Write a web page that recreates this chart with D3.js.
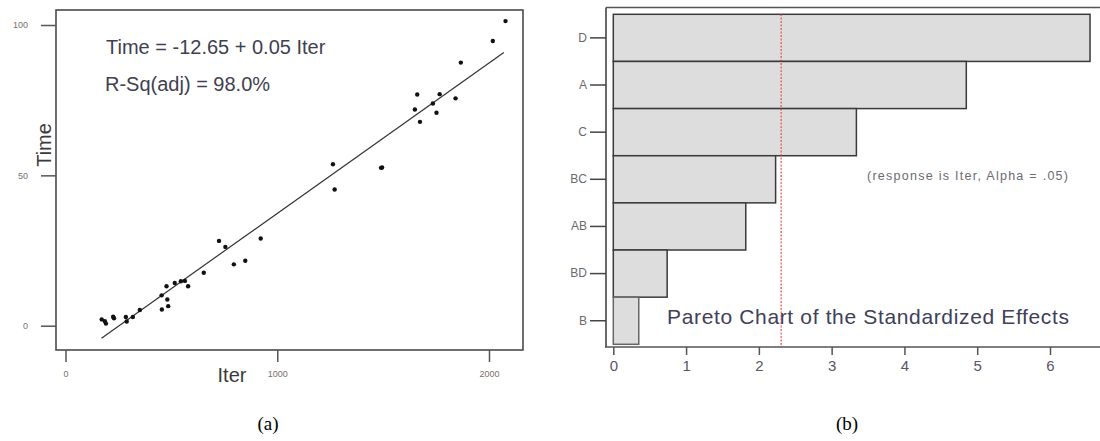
<!DOCTYPE html>
<html>
<head>
<meta charset="utf-8">
<script src="https://cdn.jsdelivr.net/npm/d3@7"></script>
<style>
  html, body { margin: 0; padding: 0; background: #fff; }
  svg { display: block; }
</style>
</head>
<body>
<svg id="fig" width="1100" height="441"></svg>
<script>
// ---- (a) fitted line plot: Time vs Iter ----
const iterVals = [171, 186, 191, 225, 229, 285, 289, 318, 351, 455, 485, 481, 454, 477, 516, 545, 564, 579,
                  653, 725, 755, 795, 849, 922, 1263, 1271, 1490, 1495, 1650, 1661, 1674, 1735, 1752, 1767,
                  1842, 1867, 2018, 2078];
const timeVals = [2.1, 1.5, 0.7, 3.0, 2.5, 2.9, 1.4, 2.9, 5.2, 5.4, 6.5, 8.7, 10.1, 13.1, 14.2, 14.8, 14.9, 13.1,
                  17.6, 28.2, 26.2, 20.4, 21.6, 29.0, 53.7, 45.3, 52.5, 52.6, 71.9, 76.9, 67.8, 73.9, 70.8, 77.0,
                  75.6, 87.5, 94.7, 101.3];
const fitIntercept = -12.65;
const fitSlope = 0.05;
const fitRange = [170, 2070];
const iterTicks = [0, 1000, 2000];
const timeTicks = [0, 50, 100];

// ---- (b) Pareto chart of standardized effects ----
const effectTerms = ["D", "A", "C", "BC", "AB", "BD", "B"];
const effectVals = [6.55, 4.85, 3.34, 2.23, 1.82, 0.74, 0.35];
const effectTicks = [0, 1, 2, 3, 4, 5, 6];
const criticalT = 2.306;

const svg = d3.select("#fig");
const sans = "'Liberation Sans', Arial, sans-serif";

// ================= (a) =================
const xA = d3.scaleLinear().domain([0, 2000]).range([65.5, 489]);
const yA = d3.scaleLinear().domain([0, 100]).range([325.7, 25]);
const gA = svg.append("g");

gA.append("rect")
  .attr("x", 56).attr("y", 10).attr("width", 467).attr("height", 340)
  .attr("fill", "none").attr("stroke", "#4a4a4a").attr("stroke-width", 1.6);

const axA_y = gA.append("g").attr("transform", "translate(56,0)")
  .call(d3.axisLeft(yA).tickValues(timeTicks).tickSize(15).tickPadding(13).tickFormat(d3.format("d")));
const axA_x = gA.append("g").attr("transform", "translate(0,350)")
  .call(d3.axisBottom(xA).tickValues(iterTicks).tickSize(12).tickPadding(9).tickFormat(d3.format("d")));
[axA_y, axA_x].forEach(ax => {
  ax.select(".domain").remove();
  ax.selectAll(".tick line").attr("stroke", "#555").attr("stroke-width", 1.5);
  ax.selectAll(".tick text").attr("fill", "#7a6f6a").style("font", `9px ${sans}`);
});

// fitted regression line
gA.append("line")
  .attr("x1", xA(fitRange[0])).attr("y1", yA(fitIntercept + fitSlope * fitRange[0]))
  .attr("x2", xA(fitRange[1])).attr("y2", yA(fitIntercept + fitSlope * fitRange[1]))
  .attr("stroke", "#333").attr("stroke-width", 1.2);

// observations
gA.append("g").selectAll("circle")
  .data(iterVals.map((v, i) => [v, timeVals[i]]))
  .join("circle")
  .attr("cx", d => xA(d[0])).attr("cy", d => yA(d[1]))
  .attr("r", 2.2).attr("fill", "#111");

gA.append("text").attr("x", 106).attr("y", 53.5)
  .attr("fill", "#3f3f4f").style("font", `20px ${sans}`)
  .text(`Time = ${fitIntercept} + ${fitSlope} Iter`);
gA.append("text").attr("x", 105).attr("y", 91)
  .attr("fill", "#3f3f4f").style("font", `20px ${sans}`)
  .text("R-Sq(adj) = 98.0%");

gA.append("text").attr("transform", "translate(51,145) rotate(-90)")
  .attr("text-anchor", "middle").attr("fill", "#3a3a3a").style("font", `20px ${sans}`)
  .text("Time");
gA.append("text").attr("x", 232).attr("y", 382)
  .attr("text-anchor", "middle").attr("fill", "#3a3a3a").style("font", `20px ${sans}`)
  .text("Iter");

// ================= (b) =================
const xB = d3.scaleLinear().domain([0, 6]).range([613.3, 1050]);
const yB = d3.scaleBand().domain(effectTerms).range([14.3, 344.3]).padding(0);
const gB = svg.append("g");

// frame: top rule and left spine
gB.append("line").attr("x1", 606).attr("x2", 1100).attr("y1", 7.5).attr("y2", 7.5)
  .attr("stroke", "#555").attr("stroke-width", 1.6);

gB.append("g").selectAll("rect")
  .data(effectTerms.map((t, i) => ({ term: t, value: effectVals[i] })))
  .join("rect")
  .attr("x", xB(0)).attr("y", d => yB(d.term))
  .attr("width", d => xB(d.value) - xB(0)).attr("height", yB.bandwidth())
  .attr("fill", "#dddddd").attr("stroke", d => d.term === "B" ? "#666" : "#3a3a3a").attr("stroke-width", 1.5);

const axB_y = gB.append("g").attr("transform", "translate(606,0)")
  .call(d3.axisLeft(yB).tickSize(16).tickPadding(3));
axB_y.select(".domain").attr("d", "M0,7.5V347").attr("stroke", "#444").attr("stroke-width", 1.6);
axB_y.selectAll(".tick line").attr("stroke", "#444").attr("stroke-width", 1.5);
axB_y.selectAll(".tick text").attr("fill", "#6a6a6a").style("font", `12px ${sans}`);

const axB_x = gB.append("g").attr("transform", "translate(0,347)")
  .call(d3.axisBottom(xB).tickValues(effectTicks).tickSize(8).tickPadding(5).tickFormat(d3.format("d")));
axB_x.select(".domain").attr("d", "M605,0H1100").attr("stroke", "#555").attr("stroke-width", 1.6);
axB_x.selectAll(".tick line").attr("stroke", "#555").attr("stroke-width", 1.5);
axB_x.selectAll(".tick text").attr("fill", "#5a5566").style("font", `15px ${sans}`);

// critical value reference line
gB.append("line")
  .attr("x1", xB(criticalT)).attr("x2", xB(criticalT)).attr("y1", 14).attr("y2", 347)
  .attr("stroke", "#e8322a").attr("stroke-width", 1).attr("stroke-dasharray", "2,1.5");

gB.append("text").attr("x", 867).attr("y", 180)
  .attr("fill", "#6a6a72").style("font", `12.5px ${sans}`)
  .attr("textLength", 201).attr("lengthAdjust", "spacing")
  .text("(response is Iter, Alpha = .05)");
gB.append("text").attr("x", 667).attr("y", 324)
  .attr("fill", "#404058").style("font", `21px ${sans}`)
  .attr("textLength", 402).attr("lengthAdjust", "spacing")
  .text("Pareto Chart of the Standardized Effects");

// ---- panel captions ----
const serif = "'Liberation Serif', 'Times New Roman', serif";
svg.append("text").attr("x", 268).attr("y", 430).attr("text-anchor", "middle")
  .style("font", `19px ${serif}`).attr("fill", "#000").text("(a)");
svg.append("text").attr("x", 847).attr("y", 430).attr("text-anchor", "middle")
  .style("font", `19px ${serif}`).attr("fill", "#000").text("(b)");
</script>
</body>
</html>
